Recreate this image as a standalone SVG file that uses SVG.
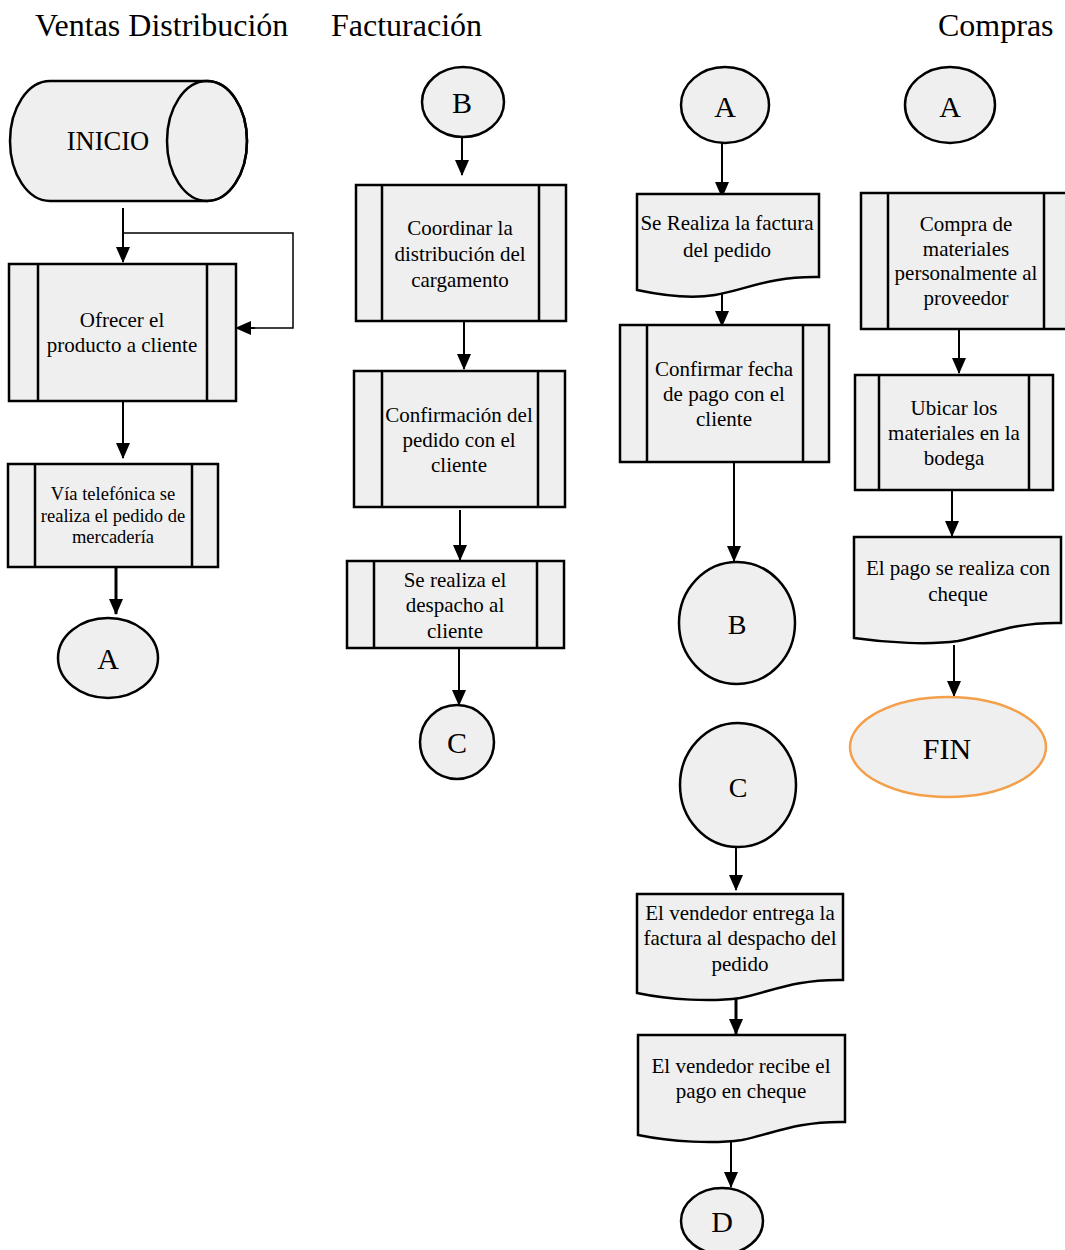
<svg xmlns="http://www.w3.org/2000/svg" width="1065" height="1250" viewBox="0 0 1065 1250">
  <defs>
    <marker id="arr" markerUnits="userSpaceOnUse" markerWidth="16" markerHeight="16" viewBox="0 0 16 16" refX="15" refY="8" orient="auto">
      <path d="M0,1 L16,8 L0,15 Z" fill="#000"/>
    </marker>
    <style>
      .title { font-family: "Liberation Serif", "Times New Roman", serif; font-size: 32px; fill: #000; }
      .lbl { font-family: "Liberation Serif", "Times New Roman", serif; font-size: 21px; fill: #000; text-anchor: middle; }
      .sm { font-size: 18.5px; }
      .big { font-size: 30px; }
      .shape { fill: #efefef; stroke: #000; stroke-width: 2.5; }
      .bar { fill: none; stroke: #000; stroke-width: 2.5; }
      .fin { fill: #efefef; stroke: #f4a04a; stroke-width: 2.5; }
      .conn { fill: none; stroke: #000; stroke-width: 2; marker-end: url(#arr); }
      .thick { stroke-width: 3; }
      .thin { fill: none; stroke: #000; stroke-width: 1.5; }
    </style>
  </defs>
  <rect width="1065" height="1250" fill="#fff"/>

  <!-- lane titles -->
  <text class="title" x="35" y="36">Ventas Distribución</text>
  <text class="title" x="331" y="36">Facturación</text>
  <text class="title" x="938" y="36">Compras</text>

  <!-- connectors -->
  <g id="connectors">
    <path class="conn" d="M123,208 V262"/>
    <path class="thin" d="M123,233 H293 V328 H250"/>
    <path class="conn" d="M255,328 H236"/>
    <path class="conn" d="M123,401 V458"/>
    <path class="conn thick" d="M116,567 V614"/>
    <path class="conn" d="M462,137 V175"/>
    <path class="conn" d="M464,321 V369"/>
    <path class="conn" d="M460,510 V560"/>
    <path class="conn" d="M459,648 V705"/>
    <path class="conn" d="M722,143 V197"/>
    <path class="conn" d="M722,287 V326"/>
    <path class="conn" d="M734,463 V561"/>
    <path class="conn" d="M736,848 V890"/>
    <path class="conn thick" d="M736,994 V1034"/>
    <path class="conn" d="M731,1140 V1187"/>
    <path class="conn" d="M959,329 V373"/>
    <path class="conn" d="M952,490 V536"/>
    <path class="conn" d="M954,645 V696"/>
  </g>

  <!-- Ventas Distribución -->
  <g id="inicio">
    <path class="shape" d="M50,81 H207 A40,60 0 0 1 207,201 H50 A40,60 0 0 1 50,81 Z"/>
    <ellipse class="bar" cx="207" cy="141" rx="40" ry="60"/>
    <text class="lbl" x="108" y="150" style="font-size:26.5px">INICIO</text>
  </g>
  <g id="ofrecer">
    <rect class="shape" x="9" y="264" width="227" height="137"/>
    <path class="bar" d="M38,264 V401 M207,264 V401"/>
    <text class="lbl" x="122" y="327">Ofrecer el</text>
    <text class="lbl" x="122" y="352">producto a cliente</text>
  </g>
  <g id="via-telefonica">
    <rect class="shape" x="8" y="464" width="210" height="103"/>
    <path class="bar" d="M35,464 V567 M192,464 V567"/>
    <text class="lbl sm" x="113" y="500">Vía telefónica se</text>
    <text class="lbl sm" x="113" y="522">realiza el pedido de</text>
    <text class="lbl sm" x="113" y="543">mercadería</text>
  </g>
  <g id="conector-a1">
    <ellipse class="shape" cx="108" cy="658" rx="50" ry="40"/>
    <text class="lbl big" x="108" y="669">A</text>
  </g>

  <!-- Facturación -->
  <g id="conector-b1">
    <ellipse class="shape" cx="463" cy="102" rx="41" ry="35"/>
    <text class="lbl big" x="462" y="113">B</text>
  </g>
  <g id="coordinar">
    <rect class="shape" x="356" y="185" width="210" height="136"/>
    <path class="bar" d="M382,185 V321 M539,185 V321"/>
    <text class="lbl" x="460" y="235">Coordinar la</text>
    <text class="lbl" x="460" y="261">distribución del</text>
    <text class="lbl" x="460" y="287">cargamento</text>
  </g>
  <g id="confirmacion">
    <rect class="shape" x="354" y="371" width="211" height="136"/>
    <path class="bar" d="M382,371 V507 M538,371 V507"/>
    <text class="lbl" x="459" y="422">Confirmación del</text>
    <text class="lbl" x="459" y="447">pedido con el</text>
    <text class="lbl" x="459" y="472">cliente</text>
  </g>
  <g id="despacho">
    <rect class="shape" x="347" y="561" width="217" height="87"/>
    <path class="bar" d="M374,561 V648 M537,561 V648"/>
    <text class="lbl" x="455" y="587">Se realiza el</text>
    <text class="lbl" x="455" y="612">despacho al</text>
    <text class="lbl" x="455" y="638">cliente</text>
  </g>
  <g id="conector-c1">
    <ellipse class="shape" cx="457" cy="742" rx="37" ry="37"/>
    <text class="lbl big" x="457" y="753">C</text>
  </g>

  <!-- middle column -->
  <g id="conector-a2">
    <ellipse class="shape" cx="725" cy="105" rx="44" ry="38"/>
    <text class="lbl big" x="725" y="117">A</text>
  </g>
  <g id="factura">
    <path class="shape" d="M637,194 H819 V277 C770,276 745,290 715,295 C690,299 665,296 637,290 Z"/>
    <text class="lbl" x="727" y="230">Se Realiza la factura</text>
    <text class="lbl" x="727" y="257">del pedido</text>
  </g>
  <g id="confirmar-fecha">
    <rect class="shape" x="620" y="325" width="209" height="137"/>
    <path class="bar" d="M647,325 V462 M803,325 V462"/>
    <text class="lbl" x="724" y="376">Confirmar fecha</text>
    <text class="lbl" x="724" y="401">de pago con el</text>
    <text class="lbl" x="724" y="426">cliente</text>
  </g>
  <g id="conector-b2">
    <ellipse class="shape" cx="737" cy="623" rx="58" ry="61"/>
    <text class="lbl" x="737" y="634" style="font-size:28px">B</text>
  </g>
  <g id="conector-c2">
    <ellipse class="shape" cx="738" cy="785" rx="58" ry="62"/>
    <text class="lbl" x="738" y="797" style="font-size:28px">C</text>
  </g>
  <g id="entrega-factura">
    <path class="shape" d="M637,894 H843 V980 C795,979 770,992 740,998 C712,1002 670,1000 637,993 Z"/>
    <text class="lbl" x="740" y="920">El vendedor entrega la</text>
    <text class="lbl" x="740" y="945">factura al despacho  del</text>
    <text class="lbl" x="740" y="971">pedido</text>
  </g>
  <g id="recibe-pago">
    <path class="shape" d="M638,1035 H845 V1122 C797,1121 772,1134 742,1140 C714,1144 672,1142 638,1135 Z"/>
    <text class="lbl" x="741" y="1073">El vendedor recibe el</text>
    <text class="lbl" x="741" y="1098">pago en cheque</text>
  </g>
  <g id="conector-d">
    <ellipse class="shape" cx="722" cy="1221" rx="41" ry="33"/>
    <text class="lbl big" x="722" y="1232">D</text>
  </g>

  <!-- Compras -->
  <g id="conector-a3">
    <ellipse class="shape" cx="950" cy="105" rx="45" ry="38"/>
    <text class="lbl big" x="950" y="117">A</text>
  </g>
  <g id="compra-materiales">
    <rect class="shape" x="861" y="193" width="207" height="136"/>
    <path class="bar" d="M888,193 V329 M1044,193 V329"/>
    <text class="lbl" x="966" y="231">Compra de</text>
    <text class="lbl" x="966" y="256">materiales</text>
    <text class="lbl" x="966" y="280">personalmente al</text>
    <text class="lbl" x="966" y="305">proveedor</text>
  </g>
  <g id="ubicar-materiales">
    <rect class="shape" x="855" y="375" width="198" height="115"/>
    <path class="bar" d="M879,375 V490 M1029,375 V490"/>
    <text class="lbl" x="954" y="415">Ubicar los</text>
    <text class="lbl" x="954" y="440">materiales en la</text>
    <text class="lbl" x="954" y="465">bodega</text>
  </g>
  <g id="pago-cheque">
    <path class="shape" d="M854,537 H1061 V623 C1013,622 988,635 958,641 C930,645 888,643 854,638 Z"/>
    <text class="lbl" x="958" y="575">El pago se realiza con</text>
    <text class="lbl" x="958" y="601">cheque</text>
  </g>
  <g id="fin">
    <ellipse class="fin" cx="948" cy="747" rx="98" ry="50"/>
    <text class="lbl" x="947" y="759" style="font-size:30px">FIN</text>
  </g>
</svg>
